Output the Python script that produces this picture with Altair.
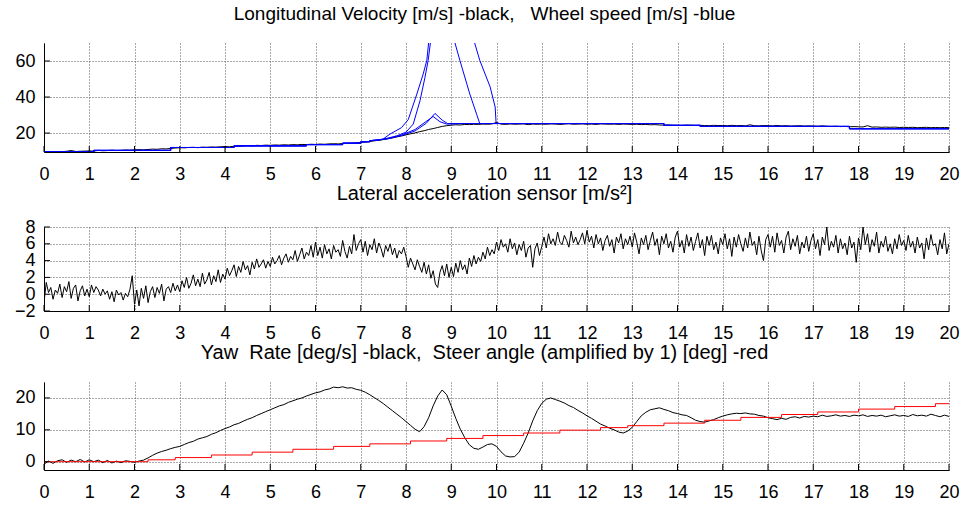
import altair as alt
import pandas as pd

# ---------------- data ----------------
X_TICKS = list(range(21))
T10 = [i / 10 for i in range(201)]
T20 = [i / 20 for i in range(401)]

VEL_BLACK = [
    9.6, 9.7, 9.6, 9.8, 9.7, 9.9, 10.3, 9.8, 9.9, 10.0,
    10.1, 10.0, 10.4, 10.2, 10.3, 10.5, 10.3, 10.4, 10.6, 10.5,
    10.7, 10.8, 10.7, 10.9, 11.1, 11.0, 11.3, 11.2, 11.5, 11.7,
    11.9, 11.8, 12.0, 12.1, 11.9, 12.2, 12.1, 12.3, 12.2, 12.4,
    12.5, 12.4, 12.7, 12.6, 12.9, 13.1, 12.9, 13.2, 13.1, 13.3,
    13.2, 13.4, 13.3, 13.5, 13.4, 13.6, 13.5, 13.7, 13.6, 13.8,
    13.7, 13.9, 13.8, 14.0, 14.1, 14.0, 14.2, 14.3, 14.4, 14.6,
    14.8, 15.0, 15.3, 15.7, 16.0, 16.4, 16.9, 17.3, 17.9, 18.4,
    19.0, 19.6, 20.1, 20.8, 21.3, 22.0, 22.5, 23.1, 23.7, 24.1,
    24.4, 24.6, 24.5, 24.8, 24.7, 24.9, 24.8, 25.0, 24.9, 25.1,
    25.9, 25.0, 24.8, 25.1, 24.9, 25.0, 25.1, 24.7, 25.0, 24.9,
    25.0, 24.9, 25.1, 25.0, 24.8, 25.0, 25.2, 24.9, 25.0, 25.1,
    24.9, 25.0, 24.8, 25.1, 25.0, 24.9, 25.0, 24.8, 25.0, 24.9,
    24.8, 24.9, 24.7, 24.8, 24.6, 24.7, 24.5, 24.4, 24.5, 24.3,
    24.3, 24.2, 24.4, 24.3, 24.2, 24.3, 24.2, 24.1, 24.3, 24.2,
    24.2, 24.1, 24.3, 24.1, 24.2, 24.0, 24.6, 24.1, 24.0, 24.2,
    24.1, 24.0, 24.2, 24.0, 24.1, 23.9, 24.0, 24.1, 23.9, 24.0,
    23.9, 23.8, 24.0, 23.8, 23.7, 23.8, 23.6, 23.7, 23.5, 23.6,
    23.5, 23.4, 24.1, 23.3, 23.4, 23.2, 23.3, 23.2, 23.3, 23.1,
    23.2, 23.1, 23.2, 23.0, 23.1, 23.2, 23.0, 23.1, 23.0, 23.1,
    23.0,
]

WHEEL_PRE_T = [0, 1.1, 1.1, 2.8, 2.8, 4.2, 4.2, 5.8, 5.8, 6.6, 6.6, 7.0, 7.0, 7.2, 7.2, 7.4]
WHEEL_PRE_V = [9.6, 9.6, 10.4, 10.4, 12.0, 12.0, 12.9, 12.9, 13.6, 13.6, 14.4, 14.4, 15.2, 15.2, 15.8, 16.2]
WHEEL_POST_T = [10.1, 13.7, 13.7, 14.5, 14.5, 17.8, 17.8, 20.0]
WHEEL_POST_V = [25.3, 25.3, 24.3, 24.3, 23.7, 23.7, 22.4, 22.4]

W1_T = [7.5, 7.65, 7.9, 8.05, 8.24, 8.38, 8.46, 8.55, 8.97, 9.19, 9.41, 9.56, 9.63]
W1_V = [16.8, 19.5, 23.0, 27.5, 41.7, 52.8, 60.4, 82.0, 80.0, 60.4, 41.7, 30.5, 25.3]
W2_T = [7.5, 7.8, 8.0, 8.16, 8.31, 8.42, 8.49, 8.6, 9.4, 9.63, 9.86, 9.97, 9.99, 10.05]
W2_V = [16.6, 18.5, 20.5, 25.0, 38.0, 51.0, 60.4, 82.0, 80.0, 60.4, 45.6, 34.5, 26.0, 25.3]
W3_T = [7.6, 7.9, 8.2, 8.45, 8.64, 8.8, 8.92]
W3_V = [17.0, 18.6, 21.2, 25.5, 30.9, 27.2, 25.3]
W4_T = [7.6, 7.9, 8.2, 8.42, 8.6, 8.75, 8.9, 9.3]
W4_V = [16.8, 18.9, 22.0, 26.0, 29.2, 26.3, 25.0, 25.3]

LAT_ACC = [
    -1.0, 1.4, 0.2, 0.8, -0.6, 0.5, 0.1, 1.2, -0.4, 0.9, 0.3, 1.5, -0.5, 0.7, 1.1, -0.8, 0.4, 1.0, -0.2, 0.6,
    -0.3, 1.1, 0.2, 0.9, 0.5, -0.2, 0.6, 0.0, 0.4, -0.6, 0.3, -0.9, 0.5, -0.1, 0.2, -0.7, 0.1, -0.3, 0.6, 2.2,
    -1.2, 0.5, -1.4, 0.7, -0.5, 1.0, -1.0, 0.3, 0.9, -0.4, 0.8, 0.1, 1.2, -0.8, 0.6, 0.9, 0.2, 1.3, 0.4, 1.1,
    0.3, 1.6, 0.8, 2.0, 0.7, 1.3, 2.3, 1.0, 1.8, 0.9, 2.5, 1.2, 1.7, 2.6, 1.1, 2.2, 1.5, 2.9, 1.4, 2.4,
    1.8, 3.1, 2.2, 2.8, 3.5, 2.1, 3.3, 2.6, 3.9, 2.9, 3.4, 2.3, 3.8, 3.0, 4.2, 3.2, 3.6, 4.1, 3.1, 3.9,
    3.3, 4.4, 3.6, 4.0, 4.6, 3.5, 4.3, 4.8, 3.8, 4.5, 4.1, 5.2, 3.9, 4.7, 5.5, 4.2, 5.0, 4.6, 5.8, 4.4,
    6.2, 4.6, 5.6, 4.3, 5.9, 4.8, 5.4, 4.2, 5.8, 5.0, 5.3, 4.5, 6.4, 5.1, 4.3, 5.7, 4.8, 7.1, 5.2, 6.0,
    6.5, 5.0, 6.3, 4.6, 5.9, 5.3, 6.6, 4.9, 6.1, 5.4, 4.4, 5.8, 5.1, 6.0, 4.7, 5.5, 4.3, 5.2, 4.8, 5.6,
    4.5, 3.2, 4.3, 3.6, 2.9, 4.1, 3.3, 2.6, 3.8, 2.4, 3.5, 1.9, 2.8, 1.2, 0.8, 2.6, 3.4, 2.2, 3.6, 2.0,
    3.2, 2.1, 3.7, 2.6, 4.0, 2.9, 3.5, 2.4, 4.3, 3.3, 4.6, 3.6, 4.4, 3.9, 5.0, 4.2, 5.6, 4.6, 5.3, 4.8,
    6.2, 5.2, 6.5, 5.6, 6.0, 5.0, 6.6, 5.4, 6.1, 4.7, 5.9, 5.2, 6.3, 4.4, 5.5, 5.8, 3.2, 5.4, 6.1, 4.6,
    5.7, 6.8, 5.5, 7.2, 6.0, 6.6, 5.8, 7.4, 6.2, 5.9, 7.0, 6.4, 5.6, 7.5, 6.1, 6.8, 5.9, 6.5, 7.3, 6.0,
    7.6, 6.2, 6.9, 5.5, 7.1, 6.0, 6.7, 5.2, 6.4, 7.0, 5.7, 6.5, 4.9, 6.8, 6.1, 7.2, 5.4, 6.6, 5.9, 6.9,
    5.6, 7.3, 6.2, 4.8, 6.7, 5.9, 7.0, 5.3, 6.4, 7.4, 5.8, 6.6, 4.7, 6.9, 6.0, 7.2, 5.5, 6.3, 5.0, 6.8,
    7.5, 5.6, 6.4, 4.9, 7.1, 5.7, 6.8, 5.2, 6.3, 7.3, 5.5, 6.5, 4.6, 6.9, 5.8, 7.0, 5.3, 6.2, 4.8, 6.7,
    5.9, 7.2, 5.4, 6.6, 4.5, 6.8, 5.6, 7.1, 6.0, 5.1, 6.7, 5.5, 7.4, 5.8, 6.3, 4.7, 6.9, 5.2, 4.0, 6.5,
    7.1, 5.6, 6.9, 5.0, 7.3, 5.8, 6.4, 4.9, 6.8, 7.5, 5.3, 6.6, 5.7, 7.0, 4.8, 6.2, 5.5, 6.9, 5.1, 6.4,
    7.2, 5.4, 6.5, 4.6, 6.8, 5.9, 8.0, 5.2, 6.3, 5.6, 7.0, 4.9, 6.6, 5.4, 6.1, 4.7, 6.9, 5.5, 6.2, 3.8,
    6.7, 5.3, 8.0, 5.9, 7.2, 5.0, 6.5, 5.7, 7.4, 4.9, 6.3, 5.6, 6.9, 5.1, 6.0, 4.8, 6.6, 5.4, 7.1, 5.8,
    6.4, 5.2, 7.0, 5.6, 6.3, 4.9, 6.8, 5.5, 6.1, 4.2, 6.7, 5.3, 7.1, 5.8, 6.0, 4.7, 6.5, 5.4, 7.3, 4.8,
    6.0,
]

YAW = [
    -0.8, 0.2, -0.5, 0.3, 0.6, -0.2, 0.5, 0.0, 0.7, -0.1,
    0.6, 0.0, 0.5, -0.3, 0.4, -0.4, 0.2, -0.3, 0.3, 0.1,
    -0.2, 0.2, 0.5, 1.2, 2.0, 2.7, 3.2, 3.6, 4.1, 4.5,
    4.8, 5.4, 6.0, 6.4, 7.1, 7.5, 7.9, 8.6, 9.1, 9.8,
    10.4, 10.9, 11.6, 12.0, 12.7, 13.3, 13.8, 14.5, 15.1, 15.7,
    16.3, 16.9, 17.5, 17.9, 18.6, 19.1, 19.6, 20.0, 20.6, 21.1,
    21.6, 21.9, 22.5, 22.8, 23.4, 23.2, 23.5, 23.1, 23.2, 22.7,
    22.4, 21.8, 21.0, 20.1, 19.2, 18.2, 17.1, 16.0, 14.9, 13.8,
    12.6, 11.4, 10.2, 9.4, 11.0, 13.8, 17.5, 20.6, 22.5, 21.0,
    17.4, 13.6, 10.2, 7.5, 5.3, 4.2, 3.9, 4.6, 5.4, 5.6,
    4.8, 3.1, 1.8, 1.5, 1.6, 3.0, 5.8, 9.0, 12.8, 16.0,
    18.3, 19.6, 20.0, 19.5, 19.0, 18.4, 17.6, 17.0, 16.1, 15.3,
    14.4, 13.6, 12.7, 11.8, 11.2, 10.5, 10.0, 9.3, 9.0, 9.6,
    10.8, 12.6, 14.4, 15.5, 16.3, 16.6, 16.9, 16.4, 16.0, 15.4,
    15.1, 14.7, 14.5, 13.8, 13.0, 12.6, 12.4, 12.8, 13.2, 13.8,
    14.3, 14.7, 15.0, 15.2, 15.1, 15.3, 15.0, 14.9, 14.5, 14.3,
    13.8, 13.5, 13.2, 13.6, 13.3, 13.9, 14.1, 13.7, 14.2, 14.0,
    14.3, 14.1, 14.6, 14.2, 14.4, 14.7, 14.3, 14.5, 14.2, 14.6,
    14.4, 14.7, 14.2, 14.5, 14.3, 14.6, 14.1, 14.4, 14.7, 14.3,
    14.5, 14.2, 14.8, 14.4, 14.6, 14.3, 14.9, 14.5, 14.1, 14.6,
    14.2,
]

STEER_T = [0, 2.3, 2.9, 3.7, 4.6, 5.5, 6.4, 7.2, 8.1, 8.9, 9.7, 10.6, 11.4, 12.3, 12.9,
           13.7, 14.6, 15.4, 16.3, 17.1, 18.0, 18.8, 19.7, 20.0]
STEER_V = [0, 0.6, 1.3, 2.1, 3.0, 3.9, 4.8, 5.6, 6.5, 7.3, 8.2, 9.0, 9.9, 10.7, 11.3,
           12.1, 13.0, 13.9, 14.8, 15.6, 16.5, 17.3, 18.2, 18.2]

NB = "\u00a0"
TITLE1 = "Longitudinal Velocity [m/s] -black," + NB * 3 + "Wheel speed [m/s] -blue"
TITLE2 = "Lateral acceleration sensor [m/s²]"
TITLE3 = "Yaw" + NB * 2 + "Rate [deg/s] -black," + NB * 2 + "Steer angle (amplified by 1) [deg] -red"

# ---------------- frames ----------------
df_vel = pd.DataFrame({"t": T10, "v": VEL_BLACK})
wheel_rows = []
for name, tt, vv in [("w1", W1_T, W1_V), ("w2", W2_T, W2_V), ("w3", W3_T, W3_V), ("w4", W4_T, W4_V)]:
    ts = WHEEL_PRE_T + tt + WHEEL_POST_T
    vs = WHEEL_PRE_V + vv + WHEEL_POST_V
    for i, (a, b) in enumerate(zip(ts, vs)):
        wheel_rows.append({"t": a, "v": b, "w": name, "o": i})
df_wheels = pd.DataFrame(wheel_rows)
df_lat = pd.DataFrame({"t": T20, "v": LAT_ACC})
df_yaw = pd.DataFrame({"t": T10, "v": YAW})
df_steer = pd.DataFrame({"t": STEER_T, "v": STEER_V})

# ---------------- styling ----------------
FONT = "Liberation Sans"
W = 905
H1, H2, H3 = 109, 84, 88
GRID = dict(grid=True, gridColor="#555555", gridDash=[1, 2], gridWidth=1)


def xenc():
    return alt.X(
        "t:Q",
        scale=alt.Scale(domain=[0, 20], nice=False, zero=False),
        axis=alt.Axis(values=X_TICKS, title=None, ticks=False, labelPadding=13,
                      labelFlush=False, labelOverlap=False, domainColor="black",
                      labelFont=FONT, labelFontSize=18, labelColor="black", **GRID),
    )


def yenc(domain, ticks):
    return alt.Y(
        "v:Q",
        scale=alt.Scale(domain=domain, nice=False, zero=False),
        axis=alt.Axis(values=ticks, title=None, ticks=False, labelPadding=9,
                      labelFlush=False, labelOverlap=False, domainColor="black",
                      minExtent=39, maxExtent=39, format="d",
                      labelFont=FONT, labelFontSize=18, labelColor="black", **GRID),
    )


def tick_layers(domain, ticks, height):
    xt = alt.Chart(pd.DataFrame({"t": X_TICKS})).mark_rule(color="black", strokeWidth=1).encode(
        x=xenc(), y=alt.value(height), y2=alt.value(height - 6))
    yt = alt.Chart(pd.DataFrame({"v": ticks})).mark_rule(color="black", strokeWidth=1).encode(
        y=yenc(domain, ticks), x=alt.value(0), x2=alt.value(6))
    return [xt, yt]


def title(text, size, offset):
    return alt.TitleParams(text=text, font=FONT, fontSize=size, fontWeight="normal",
                           color="black", offset=offset, anchor="middle", dx=-12)


# Panel 1
D1, K1 = [9.5, 70], [20, 40, 60]
p1_black = alt.Chart(df_vel).mark_line(color="black", strokeWidth=1, clip=True).encode(
    x=xenc(), y=yenc(D1, K1))
p1_blue = alt.Chart(df_wheels).mark_line(color="#0000ff", strokeWidth=1, clip=True).encode(
    x=xenc(), y=yenc(D1, K1), detail="w:N", order="o:Q")
p1 = alt.layer(p1_black, p1_blue, *tick_layers(D1, K1, H1)).properties(
    width=W, height=H1, title=title(TITLE1, 19, 19))

# Panel 2
D2, K2 = [-2, 8], [-2, 0, 2, 4, 6, 8]
p2_line = alt.Chart(df_lat).mark_line(color="black", strokeWidth=1, clip=True).encode(
    x=xenc(), y=yenc(D2, K2))
p2 = alt.layer(p2_line, *tick_layers(D2, K2, H2)).properties(
    width=W, height=H2, title=title(TITLE2, 20, 14))

# Panel 3
D3, K3 = [-2.6, 25], [0, 10, 20]
p3_yaw = alt.Chart(df_yaw).mark_line(color="black", strokeWidth=1, clip=True).encode(
    x=xenc(), y=yenc(D3, K3))
p3_steer = alt.Chart(df_steer).mark_line(color="#ff0000", strokeWidth=1, clip=True,
                                         interpolate="step-after").encode(
    x=xenc(), y=yenc(D3, K3))
p3 = alt.layer(p3_yaw, p3_steer, *tick_layers(D3, K3, H3)).properties(
    width=W, height=H3, title=title(TITLE3, 20, 19))

chart = alt.vconcat(p1, p2, p3, spacing=1).properties(
    padding={"left": 5, "top": 5, "right": 5, "bottom": 2},
    background="white",
).configure_view(stroke=None)

chart.save("out.html", embed_options={"renderer": "svg", "actions": False})
